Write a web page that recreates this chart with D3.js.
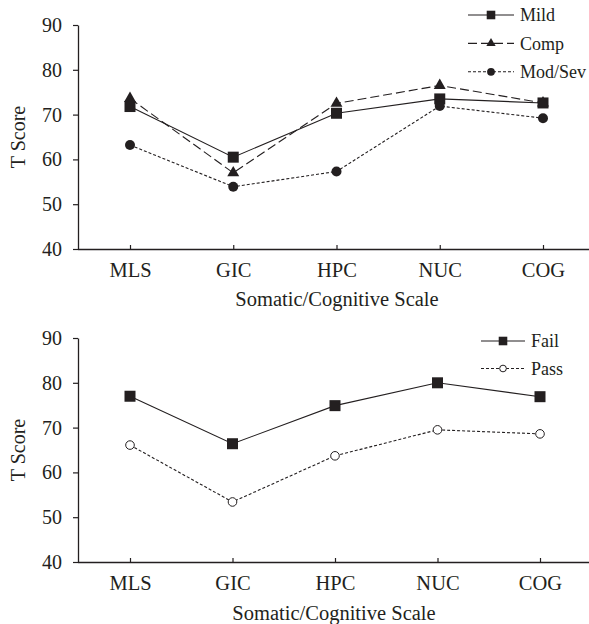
<!DOCTYPE html>
<html><head><meta charset="utf-8">
<script src="https://cdn.jsdelivr.net/npm/d3@7/dist/d3.min.js"></script>
<style>body{margin:0;background:#fff}svg{display:block}text{font-family:"Liberation Serif","Times New Roman",serif;fill:#231f20}</style>
</head><body>
<script>
const categories = ["MLS","GIC","HPC","NUC","COG"];
const yTicks = [40,50,60,70,80,90];
const mild = [71.8,60.5,70.3,73.5,72.6];
const comp = [73.6,57.0,72.5,76.5,72.6];
const modSev = [63.2,53.9,57.3,71.9,69.2];
const fail = [77.0,66.4,74.9,80.0,76.9];
const pass = [66.1,53.4,63.7,69.5,68.6];
const yTitle = "T Score";
const xTitle = "Somatic/Cognitive Scale";

const W = 589, H = 624;
const svg = d3.select("body").append("svg").attr("width",W).attr("height",H);
const ink = "#231f20";

function panel(cfg){
  const g = svg.append("g");
  const x = d3.scalePoint().domain(categories).range(cfg.xr);
  const y = d3.scaleLinear().domain([40,90]).range(cfg.yr);
  // y axis
  const ya = g.append("g").attr("transform",`translate(${cfg.left},0)`)
    .call(d3.axisLeft(y).tickValues(yTicks).tickSize(5).tickPadding(11).tickSizeOuter(0));
  ya.select(".domain").attr("stroke",ink).attr("stroke-width",1.3);
  ya.selectAll(".tick line").attr("stroke",ink).attr("stroke-width",1.2);
  ya.selectAll("text").attr("font-size",20).attr("font-family","Liberation Serif").attr("fill",ink);
  // x axis
  const xa = g.append("g").attr("transform",`translate(0,${cfg.yr[0]})`)
    .call(d3.axisBottom(x).tickSize(-4).tickPadding(13).tickSizeOuter(0));
  xa.select(".domain").attr("d",`M${cfg.left},0.5H${W}`).attr("stroke",ink).attr("stroke-width",1.6);
  xa.selectAll(".tick line").attr("stroke",ink).attr("stroke-width",1.2);
  xa.selectAll("text").attr("font-size",20.5).attr("font-family","Liberation Serif").attr("fill",ink);
  // titles
  g.append("text").attr("transform",`translate(${cfg.ytx},${(cfg.yr[0]+cfg.yr[1])/2}) rotate(-90)`)
    .attr("text-anchor","middle").attr("font-size",20).text(yTitle);
  g.append("text").attr("x",cfg.xtx).attr("y",cfg.xty).attr("text-anchor","middle")
    .attr("font-size",20.5).text(xTitle);
  const line = d3.line().x((d,i)=>x(categories[i])).y(d=>y(d));
  cfg.series.forEach(s=>{
    g.append("path").datum(s.values).attr("d",line).attr("fill","none")
      .attr("stroke",ink).attr("stroke-width",1.1).attr("stroke-dasharray",s.dash);
    s.values.forEach((v,i)=>drawMarker(g,s.marker,x(categories[i]),y(v),1));
  });
  // legend
  cfg.series.forEach((s,i)=>{
    const ly = cfg.legY + i*cfg.legDy;
    g.append("line").attr("x1",cfg.legX0).attr("x2",cfg.legX1).attr("y1",ly).attr("y2",ly)
      .attr("stroke",ink).attr("stroke-width",1.1).attr("stroke-dasharray",s.dash);
    drawMarker(g,s.marker,(cfg.legX0+cfg.legX1)/2,ly,0.78);
    g.append("text").attr("x",cfg.legX1+6).attr("y",ly).attr("dy","0.35em").attr("font-size",18).text(s.name);
  });
}
function drawMarker(g,m,cx,cy,k){
  const h = 5.5*k;
  if(m==="square") g.append("rect").attr("x",cx-h).attr("y",cy-h).attr("width",2*h).attr("height",2*h).attr("fill",ink);
  else if(m==="tri") g.append("path").attr("d",d3.symbol(d3.symbolTriangle,62*k*k)()).attr("transform",`translate(${cx},${cy})`).attr("fill",ink);
  else if(m==="circle") g.append("circle").attr("cx",cx).attr("cy",cy).attr("r",5*k).attr("fill",ink);
  else if(m==="open") g.append("circle").attr("cx",cx).attr("cy",cy).attr("r",4.3*k).attr("fill","#fff").attr("stroke",ink).attr("stroke-width",1);
}
panel({left:78, xr:[130,543], yr:[249,25], ytx:25, xtx:337, xty:306, legX0:468, legX1:514, legY:15, legDy:28.4,
  series:[{name:"Mild",values:mild,marker:"square",dash:null},
          {name:"Comp",values:comp,marker:"tri",dash:"9,4"},
          {name:"Mod/Sev",values:modSev,marker:"circle",dash:"3,2"}]});
panel({left:78, xr:[130,540], yr:[562,338], ytx:25, xtx:334, xty:620, legX0:481, legX1:525, legY:341, legDy:27.5,
  series:[{name:"Fail",values:fail,marker:"square",dash:null},
          {name:"Pass",values:pass,marker:"open",dash:"3,2"}]});
</script>
</body></html>
